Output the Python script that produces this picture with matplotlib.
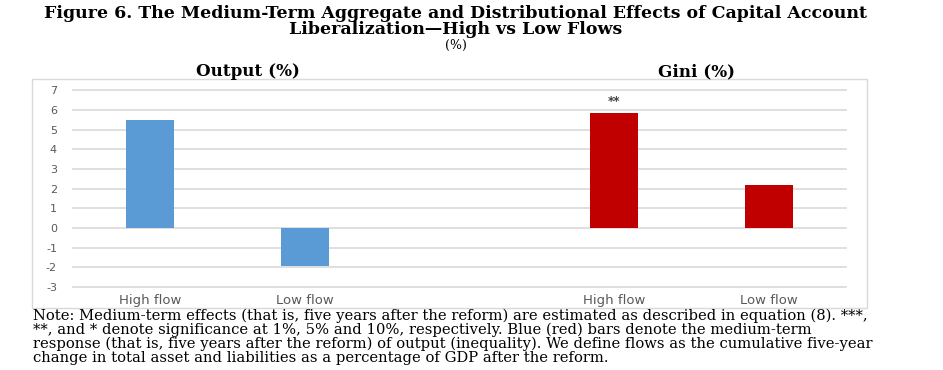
import numpy as np
import matplotlib.pyplot as plt
from matplotlib.patches import Rectangle

# data
categories = ['High flow', 'Low flow', '', 'High flow', 'Low flow']
output_vals = [5.5, -1.95]
gini_vals = [5.85, 2.2]
output_pos = [0, 1]
gini_pos = [3, 4]
gini_stars = ['**', '']
y_ticks = list(range(-3, 8))

blue = '#5b9bd5'
red = '#c00000'
grid_col = '#d9d9d9'
lab_col = '#595959'

fig = plt.figure(figsize=(9.43, 3.70), dpi=100)
W, H = 943, 370
renderer = fig.canvas.get_renderer()

def fx(px):
    return px / W

def fy(py):
    return 1 - py / H

def fit(t, width_px):
    # the source picture is stretched sideways, so size each line to its width
    bb = t.get_window_extent(renderer=renderer)
    t.set_fontsize(t.get_fontsize() * width_px / bb.width)

# chart frame
fig.patches.append(Rectangle((fx(32), fy(308)), fx(867) - fx(32), fy(79) - fy(308),
                             transform=fig.transFigure, fill=False,
                             edgecolor=grid_col, linewidth=1.0))

ax = fig.add_axes([fx(73), fy(287), fx(846) - fx(73), fy(90.5) - fy(287)])
ax.bar(output_pos, output_vals, width=0.31, color=blue, zorder=3)
ax.bar(gini_pos, gini_vals, width=0.31, color=red, zorder=3)
for p, v, s in zip(gini_pos, gini_vals, gini_stars):
    if s:
        ax.text(p, v + 0.25, s, ha='center', va='bottom', fontsize=8.5,
                fontweight='bold', color='#404040')

ax.set_xlim(-0.5, 4.5)
ax.set_ylim(-3, 7)
ax.set_yticks(y_ticks)
ax.set_yticklabels([str(t) for t in y_ticks], fontfamily='DejaVu Sans', fontsize=8, color=lab_col)
ax.set_xticks(range(len(categories)))
ax.set_xticklabels(categories, fontfamily='DejaVu Sans', fontsize=9.5, color=lab_col)
ax.tick_params(axis='both', length=0)
ax.tick_params(axis='y', pad=11.5)
ax.tick_params(axis='x', pad=5)
for sp in ax.spines.values():
    sp.set_visible(False)
ax.yaxis.grid(True, color=grid_col, linewidth=1.2, zorder=0)
for gl in ax.get_ygridlines():
    gl.set_clip_on(False)
ax.set_axisbelow(True)

serif = 'DejaVu Serif'
t1 = fig.text(fx(456), fy(13), 'Figure 6. The Medium-Term Aggregate and Distributional Effects of Capital Account',
              ha='center', va='center', fontfamily=serif, fontweight='bold', fontsize=10)
fit(t1, 822)
t2 = fig.text(fx(456), fy(29), 'Liberalization\u2014High vs Low Flows',
              ha='center', va='center', fontfamily=serif, fontweight='bold', fontsize=10)
t2.set_fontsize(t1.get_fontsize())
fig.text(fx(456), fy(45), '(%)', ha='center', va='center', fontfamily=serif, fontsize=9)
t3 = fig.text(fx(248), fy(72), 'Output (%)', ha='center', va='center', fontfamily=serif,
              fontweight='bold', fontsize=10)
fit(t3, 104)
fig.text(fx(697), fy(72), 'Gini (%)', ha='center', va='center', fontfamily=serif,
         fontweight='bold', fontsize=t3.get_fontsize())

note = ['Note: Medium-term effects (that is, five years after the reform) are estimated as described in equation (8). ***,',
        '**, and * denote significance at 1%, 5% and 10%, respectively. Blue (red) bars denote the medium-term',
        'response (that is, five years after the reform) of output (inequality). We define flows as the cumulative five-year',
        'change in total asset and liabilities as a percentage of GDP after the reform.']
nt = []
for i, line in enumerate(note):
    nt.append(fig.text(fx(33), fy(316 + 14 * i), line, ha='left', va='center',
                       fontfamily=serif, fontsize=9))
fit(nt[0], 835)
for t in nt[1:]:
    t.set_fontsize(nt[0].get_fontsize())

fig.savefig('out.png', dpi=100)
